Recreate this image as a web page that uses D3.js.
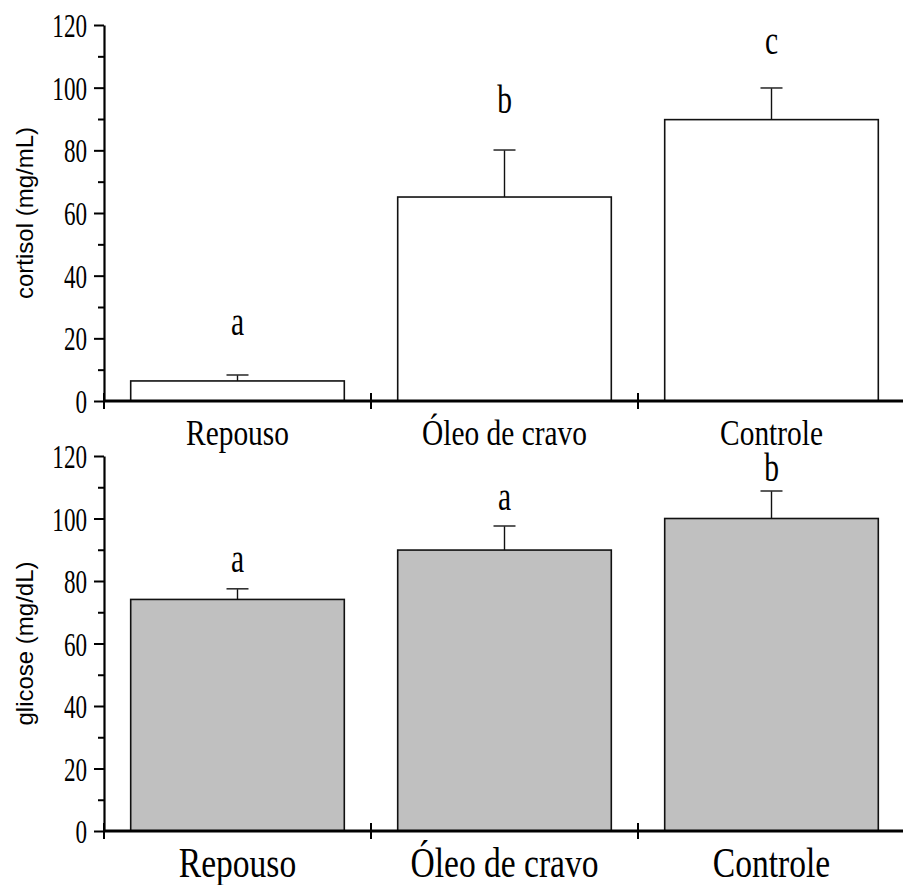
<!DOCTYPE html>
<html>
<head>
<meta charset="utf-8">
<script src="https://cdn.jsdelivr.net/npm/d3@7"></script>
<style>
  body { margin: 0; background: #fff; }
  svg { display: block; }
</style>
</head>
<body>
<script>
// two stacked bar charts: cortisol and glicose per group

const categories = ["Repouso", "Óleo de cravo", "Controle"];

const cortisol = [6.4, 65.1, 89.8];
const cortisolErr = [8.3, 80.1, 99.9];
const cortisolLetters = ["a", "b", "c"];
const cortisolLetterY = [21.1, 91.9, 110.8];

const glicose = [74.1, 89.9, 100.0];
const glicoseErr = [77.5, 97.6, 108.8];
const glicoseLetters = ["a", "a", "b"];
const glicoseLetterY = [82.9, 102.7, 112.0];

const majorTicks = [0, 20, 40, 60, 80, 100, 120];
const minorTicks = [10, 30, 50, 70, 90, 110];

const width = 903;
const height = 885;

const svg = d3.select("body")
    .append("svg")
    .attr("width", width)
    .attr("height", height);

const left = 104;

const xScale = d3.scaleBand()
    .domain(categories)
    .range([left, left + 801])
    .paddingInner(0.2)
    .paddingOuter(0.1);

const serif = "'Liberation Serif', 'Times New Roman', serif";
const sans = "'Liberation Sans', Arial, sans-serif";

function panel(opts) {
    const yScale = d3.scaleLinear()
        .domain([0, 120])
        .range([opts.bottom, opts.top]);

    const g = svg.append("g");

    // bars
    g.selectAll("rect.bar")
        .data(opts.values)
        .join("rect")
        .attr("class", "bar")
        .attr("x", (d, i) => xScale(categories[i]))
        .attr("y", d => yScale(d))
        .attr("width", xScale.bandwidth())
        .attr("height", d => yScale(0) - yScale(d))
        .attr("fill", opts.fill)
        .attr("stroke", "#111")
        .attr("stroke-width", 1.6);

    // error bars
    const cx = i => xScale(categories[i]) + xScale.bandwidth() / 2;
    g.selectAll("line.err")
        .data(opts.err)
        .join("line")
        .attr("x1", (d, i) => cx(i))
        .attr("x2", (d, i) => cx(i))
        .attr("y1", (d, i) => yScale(opts.values[i]))
        .attr("y2", d => yScale(d))
        .attr("stroke", "#111")
        .attr("stroke-width", 1.4);
    g.selectAll("line.cap")
        .data(opts.err)
        .join("line")
        .attr("x1", (d, i) => cx(i) - 11)
        .attr("x2", (d, i) => cx(i) + 11)
        .attr("y1", d => yScale(d))
        .attr("y2", d => yScale(d))
        .attr("stroke", "#333")
        .attr("stroke-width", 1.6);

    // significance letters
    g.selectAll("text.letter")
        .data(opts.letters)
        .join("text")
        .attr("transform", (d, i) => `translate(${cx(i)},${yScale(opts.letterY[i])}) scale(0.72,1)`)
        .attr("text-anchor", "middle")
        .style("font-family", serif)
        .style("font-size", "41px")
        .text(d => d);

    // y axis major
    const yAxis = g.append("g")
        .attr("transform", `translate(${left},0)`)
        .call(d3.axisLeft(yScale).tickValues(majorTicks).tickSize(10).tickSizeOuter(0));
    yAxis.select(".domain").attr("stroke", "#000").attr("stroke-width", 2.2);
    yAxis.selectAll(".tick line").attr("stroke", "#000").attr("stroke-width", 2);
    yAxis.selectAll(".tick text")
        .attr("x", null)
        .attr("dy", "0.34em")
        .attr("transform", "translate(-17,0) scale(0.68,1)")
        .style("font-family", serif)
        .style("font-size", "34px")
        .attr("fill", "#000");

    // y axis minor ticks
    const yMinor = g.append("g")
        .attr("transform", `translate(${left},0)`)
        .call(d3.axisLeft(yScale).tickValues(minorTicks).tickSize(6).tickFormat(""));
    yMinor.select(".domain").remove();
    yMinor.selectAll(".tick line").attr("stroke", "#000").attr("stroke-width", 2);

    // x axis
    g.append("line")
        .attr("x1", left)
        .attr("x2", width)
        .attr("y1", yScale(0))
        .attr("y2", yScale(0))
        .attr("stroke", "#000")
        .attr("stroke-width", 3);
    const step = xScale.step();
    g.selectAll("line.xtick")
        .data(d3.range(categories.length))
        .join("line")
        .attr("x1", i => left + i * step)
        .attr("x2", i => left + i * step)
        .attr("y1", yScale(0) - 8)
        .attr("y2", yScale(0) + 8)
        .attr("stroke", "#000")
        .attr("stroke-width", 2);

    // category labels
    g.selectAll("text.cat")
        .data(categories)
        .join("text")
        .attr("transform", d => `translate(${xScale(d) + xScale.bandwidth() / 2},${opts.labelY}) scale(${opts.labelScale},1)`)
        .attr("text-anchor", "middle")
        .style("font-family", serif)
        .style("font-size", opts.labelSize + "px")
        .text(d => d);

    // y title
    g.append("text")
        .attr("transform", `translate(33,${(opts.top + opts.bottom) / 2}) rotate(-90)`)
        .attr("text-anchor", "middle")
        .style("font-family", sans)
        .style("font-size", "24px")
        .text(opts.title);
}

panel({
    top: 25, bottom: 401,
    values: cortisol, err: cortisolErr,
    letters: cortisolLetters, letterY: cortisolLetterY,
    fill: "#fff", title: "cortisol (mg/mL)",
    labelY: 445, labelSize: 35, labelScale: 0.84
});

panel({
    top: 456, bottom: 831,
    values: glicose, err: glicoseErr,
    letters: glicoseLetters, letterY: glicoseLetterY,
    fill: "#c0c0c0", title: "glicose (mg/dL)",
    labelY: 877, labelSize: 43, labelScale: 0.78
});
</script>
</body>
</html>
